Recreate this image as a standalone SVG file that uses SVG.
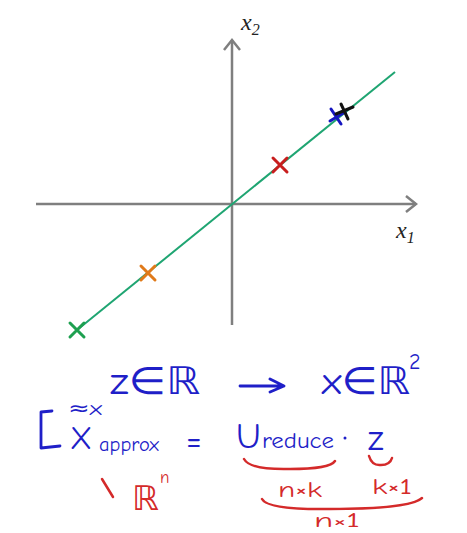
<svg xmlns="http://www.w3.org/2000/svg" width="467" height="533" viewBox="0 0 467 533">
<style>
.ax{stroke:#7f7f7f;stroke-width:2.5;fill:none}
.mk{stroke-width:3;fill:none;stroke-linecap:round}
.lbl{font-family:"Liberation Serif",serif;font-style:italic;font-size:24px;fill:#222}
.sub{font-family:"Liberation Serif",serif;font-size:16px;fill:#222}
.hb{font-family:"Comic Neue","DejaVu Sans",sans-serif;fill:#1f1fc8}
.hr{font-family:"Comic Neue","DejaVu Sans",sans-serif;fill:#d42a2a}
.rb{stroke:#d42a2a;stroke-width:2.5;fill:none;stroke-linecap:round}
.bb{stroke:#1f1fc8;stroke-width:2.8;fill:none;stroke-linecap:round;stroke-linejoin:round}
</style>
<rect width="467" height="533" fill="#ffffff"/>
<g id="axes">
<line class="ax" x1="36" y1="204" x2="416" y2="204"/>
<polyline class="ax" points="406,196 416,204 406,212"/>
<line class="ax" x1="232" y1="325" x2="232" y2="40"/>
<polyline class="ax" points="224,50 232,40 240,50"/>
<text class="lbl" x="241" y="30">x<tspan class="sub" dy="5">2</tspan></text>
<text class="lbl" x="396" y="238">x<tspan class="sub" dy="5">1</tspan></text>
</g>
<g id="line">
<line x1="77" y1="330" x2="395" y2="72" stroke="#1fa572" stroke-width="2"/>
</g>
<g id="points">
<path class="mk" stroke="#1ea050" d="M70,323 L84,337 M84,323 L70,337"/>
<path class="mk" stroke="#e07a1a" d="M141,266 L155,280 M155,266 L141,280"/>
<path class="mk" stroke="#c81e1e" d="M273,158 L287,172 M287,158 L273,172"/>
<path class="mk" stroke="#1515c0" d="M331,109 L341,124 M330,121 L345,112"/>
<path class="mk" stroke="#111111" d="M341,104 L348,119 M336,114 L353,107"/>
</g>
<g id="formula">
<text class="hb" x="110" y="394" font-size="38" textLength="90" lengthAdjust="spacingAndGlyphs">z∈ℝ</text>
<path class="bb" d="M240,386 L280,386 M270,379 L284,386 L270,392"/>
<text class="hb" x="322" y="394" font-size="38" textLength="88" lengthAdjust="spacingAndGlyphs">x∈ℝ</text>
<text class="hb" x="409" y="369" font-size="22">2</text>
<path class="bb" d="M52,411 L41,412 L41,448 L60,446"/>
<text class="hb" x="68" y="415" font-size="20" textLength="34" lengthAdjust="spacingAndGlyphs">≈x</text>
<text class="hb" x="70" y="449" font-size="32">X</text>
<text class="hb" x="99" y="451" font-size="20" textLength="60" lengthAdjust="spacingAndGlyphs">approx</text>
<text class="hb" x="186" y="452" font-size="34">=</text>
<text class="hb" x="236" y="448" font-size="36">U</text>
<text class="hb" x="262" y="448" font-size="22" textLength="72" lengthAdjust="spacingAndGlyphs">reduce</text>
<circle cx="345" cy="438" r="1.5" fill="#1f1fc8"/>
<text class="hb" x="368" y="450" font-size="36">z</text>
</g>
<g id="annotations">
<path class="rb" d="M244,459 Q250,470 290,469 Q330,469 335,461"/>
<path class="rb" d="M369,456 Q372,466 381,465 Q390,465 392,458"/>
<text class="hr" x="278" y="497" font-size="22" textLength="44" lengthAdjust="spacingAndGlyphs">n×k</text>
<text class="hr" x="372" y="494" font-size="22" textLength="40" lengthAdjust="spacingAndGlyphs">k×1</text>
<path class="rb" d="M262,499 Q268,510 330,509 Q410,509 422,498"/>
<text class="hr" x="314" y="527" font-size="20" textLength="46" lengthAdjust="spacingAndGlyphs">n×1</text>
<path class="rb" d="M102,479 L113,497"/>
<text class="hr" x="132" y="510" font-size="34">ℝ</text>
<text class="hr" x="160" y="483" font-size="17">n</text>
</g>
</svg>
